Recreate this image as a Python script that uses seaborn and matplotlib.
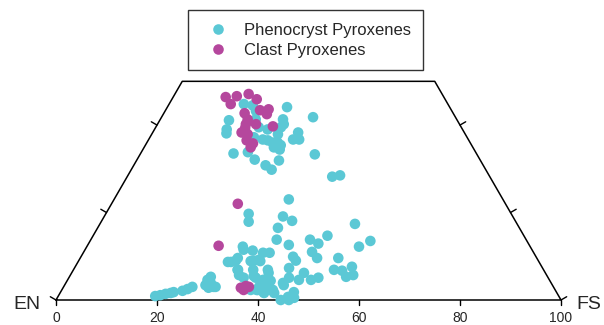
import numpy as np
import pandas as pd
import seaborn as sns
import matplotlib.pyplot as plt

# Pyroxene compositions read from the quadrilateral (mol% Wo and Fs)
pheno_wo = [44.8, 44.5, 44.1, 41.1, 39.0, 38.1, 41.3, 41.3, 40.2, 39.5, 41.8, 39.0,
            37.9, 38.3, 36.7, 36.7, 36.7, 36.5, 36.0, 36.0, 35.4, 34.9, 34.4, 37.2,
            33.5, 33.8, 32.1, 31.9, 30.8, 29.8, 33.3, 28.2, 28.5, 43.2, 39.5,
            0.9, 1.1, 1.4, 1.6, 1.8, 2.1, 2.5, 3.0, 4.6, 5.3, 3.4, 2.8, 3.0, 3.9, 3.0,
            23.0, 19.7, 17.9, 19.1, 18.1, 16.5, 13.8, 12.6, 13.8, 12.9, 11.0, 9.6,
            17.4, 14.7, 13.5, 12.2, 9.6, 6.9, 6.7, 5.3, 7.6, 5.7,
            12.2, 11.5, 11.3, 10.8, 10.8, 9.9, 9.0, 8.7, 9.0, 9.6, 9.0, 9.2,
            6.9, 5.7, 6.9, 5.5, 6.9, 6.2, 7.3, 6.2, 4.6, 4.6, 5.1, 3.9, 5.1,
            5.1, 5.1, 4.6, 4.4, 3.0, 2.8, 2.3, 2.3, 1.6, 1.8, 0.0, 0.0, 0.5, 0.7, 3.4,
            8.7, 6.9, 2.9, 2.3, 2.3, 1.8, 2.3, 1.6, 8.9, 8.9]
pheno_fs = [14.8, 16.7, 23.7, 13.7, 14.3, 14.7, 18.9, 24.3, 25.0, 24.8, 30.0, 22.4,
            25.0, 28.8, 29.8, 28.6, 22.6, 23.7, 24.9, 25.9, 26.8, 25.7, 27.1, 20.6,
            18.4, 21.1, 23.3, 28.2, 26.1, 27.8, 34.6, 40.6, 42.0, 18.0, 20.4,
            19.2, 20.1, 21.0, 21.9, 22.4, 24.0, 24.8, 25.5, 27.7, 28.0, 27.9, 28.8, 30.1, 28.7, 29.7,
            34.6, 28.3, 29.2, 35.4, 37.7, 35.7, 36.8, 39.8, 43.4, 45.5, 45.2, 46.9,
            50.5, 46.4, 55.5, 53.9, 51.1, 51.6, 53.3, 54.8, 54.8, 56.0,
            30.9, 31.4, 33.3, 35.6, 36.9, 42.0, 43.0, 30.3, 31.1, 31.2, 34.7, 35.6,
            32.6, 33.4, 35.6, 36.4, 38.5, 39.0, 42.5, 46.0, 45.8, 48.2, 49.4, 43.0, 43.6,
            34.6, 37.0, 38.7, 40.3, 38.7, 40.1, 41.8, 38.8, 40.4, 46.2, 44.5, 46.1, 46.9, 45.6, 43.4,
            29.7, 32.5, 36.4, 37.4, 38.6, 40.2, 41.4, 42.4, 34.1, 36.0]

clast_wo = [46.4, 46.6, 47.1, 45.9, 44.8, 43.4, 43.6, 42.5, 42.7, 41.3, 40.2, 40.2,
            39.7, 39.3, 37.9, 36.5, 35.8, 34.9, 38.3,
            22.0, 12.4, 2.8, 3.2, 2.3, 3.0]
clast_fs = [10.4, 12.5, 14.6, 16.8, 12.2, 18.7, 20.3, 20.5, 16.0, 17.3, 17.5, 19.5,
            23.1, 17.8, 19.0, 19.5, 21.1, 21.1, 17.6,
            25.0, 26.0, 35.2, 36.0, 36.0, 36.7]

groups = ["Phenocryst Pyroxenes", "Clast Pyroxenes"]
colors = ["#5bc8d5", "#b5479d"]
base_ticks = [0, 20, 40, 60, 80, 100]
side_ticks = [0, 20, 40]

df = pd.DataFrame({
    "Wo": pheno_wo + clast_wo,
    "Fs": pheno_fs + clast_fs,
    "group": [groups[0]] * len(pheno_wo) + [groups[1]] * len(clast_wo),
})
# ternary projection: horizontal = Fs + Wo/2, vertical = Wo * sqrt(3)/2
h = np.sqrt(3) / 2
df["x"] = df["Fs"] + df["Wo"] / 2
df["y"] = df["Wo"] * h

sns.set_style("white")
plt.rcParams["font.family"] = ["Liberation Sans", "DejaVu Sans"]

fig = plt.figure(figsize=(6.04, 3.25), dpi=100)
ax = fig.add_axes([0, 0, 1, 1])
scale = 5.05
ax.set_xlim(-56 / scale, (604 - 56) / scale)
ax.set_ylim(-25 / scale, 300 / scale)

# quadrilateral outline En - Fs - Hd - Di
corners_x = [0, 100, 75, 25, 0]
corners_y = [0, 0, 50 * h, 50 * h, 0]
ax.plot(corners_x, corners_y, color="black", lw=1.1, zorder=1)

# side ticks pointing outward
tl = 1.3
for wo in side_ticks:
    lx, ly = wo / 2, wo * h
    ax.plot([lx, lx - tl * h], [ly, ly + tl * 0.5], color="black", lw=1)
    rx = 100 - wo / 2
    ax.plot([rx, rx + tl * h], [ly, ly + tl * 0.5], color="black", lw=1)

# base ticks and labels
for t in base_ticks:
    ax.plot([t, t], [0, -1.0], color="black", lw=1)
    ax.text(t, -2.2, str(t), ha="center", va="top", fontsize=10)

ax.text(-3.0, -0.8, "EN", ha="right", va="center", fontsize=14)
ax.text(103.0, -0.8, "FS", ha="left", va="center", fontsize=14)

sns.scatterplot(data=df, x="x", y="y", hue="group", hue_order=groups,
                palette=colors, s=58, linewidth=0, alpha=1, ax=ax, zorder=3)

ax.set_axis_off()
leg = ax.legend(loc="upper left", bbox_to_anchor=(188 / 604, 1 - 10 / 325),
                bbox_transform=fig.transFigure, fontsize=12, frameon=True,
                fancybox=False, edgecolor="black", borderpad=0.75,
                labelspacing=0.3, handlelength=2.1, handletextpad=0.5,
                borderaxespad=0)
leg.get_frame().set_linewidth(1.0)

fig.savefig("out.png", dpi=100)
